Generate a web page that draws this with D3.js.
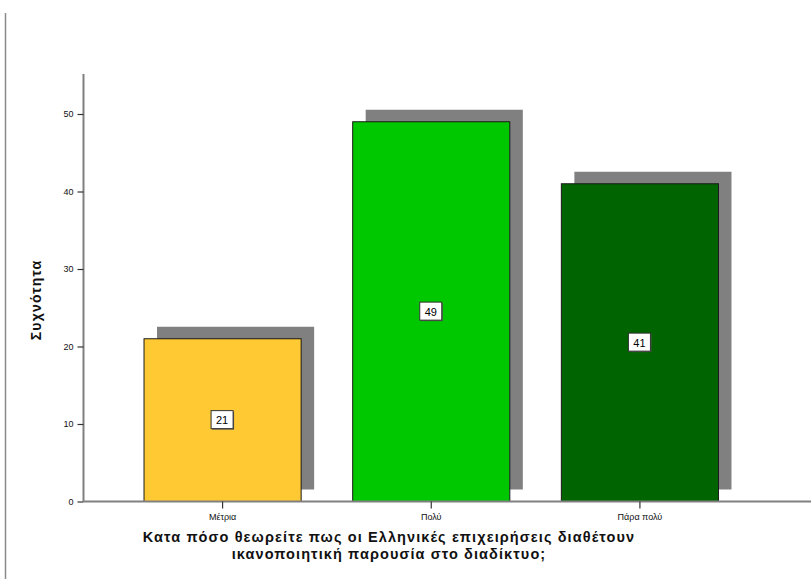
<!DOCTYPE html>
<html>
<head>
<meta charset="utf-8">
<script src="https://cdn.jsdelivr.net/npm/d3@7"></script>
<style>
  html, body { margin: 0; padding: 0; background: #fff; }
  svg { display: block; font-family: "Liberation Sans", Arial, sans-serif; }
</style>
</head>
<body>
<svg id="chart" width="811" height="579"></svg>
<script>
const categories = ["Μέτρια", "Πολύ", "Πάρα πολύ"];
const values = [21, 49, 41];
const colors = ["#ffc933", "#00c800", "#006400"];
const yTicks = [0, 10, 20, 30, 40, 50];
const yLabel = "Συχνότητα";
const xTitleLines = ["Κατα πόσο θεωρείτε πως οι Ελληνικές επιχειρήσεις διαθέτουν", "ικανοποιητική παρουσία στο διαδίκτυο;"];

const svg = d3.select("#chart");
const axisX = 83.5, baseY = 501.5;

const y = d3.scaleLinear().domain([0, 50]).range([baseY, 114]);
const x = d3.scaleBand().domain(categories).range([118.25, 744.25])
  .paddingInner(0.247).paddingOuter(0.1235);

// left frame line
svg.append("line").attr("x1", 5.5).attr("x2", 5.5).attr("y1", 13).attr("y2", 579)
  .attr("stroke", "#8a8a8a").attr("stroke-width", 1.5);

const data = categories.map((c, i) => ({c, v: values[i], col: colors[i]}));
const dx = 13, dy = 12;

// shadows
svg.append("g").selectAll("rect").data(data).join("rect")
  .attr("x", d => x(d.c) + dx)
  .attr("y", d => y(d.v) - dy)
  .attr("width", x.bandwidth())
  .attr("height", d => baseY - y(d.v))
  .attr("fill", "#808080");

// bars
svg.append("g").selectAll("rect").data(data).join("rect")
  .attr("x", d => x(d.c))
  .attr("y", d => y(d.v))
  .attr("width", x.bandwidth())
  .attr("height", d => baseY - y(d.v))
  .attr("fill", d => d.col)
  .attr("stroke", "#1a1a1a").attr("stroke-width", 1);

// y axis
const yAxis = svg.append("g").attr("transform", `translate(${axisX},0)`)
  .call(d3.axisLeft(y).tickValues(yTicks).tickSize(6).tickPadding(4).tickFormat(d3.format("d")));
yAxis.select(".domain").attr("d", `M0,74V${baseY}`).attr("stroke", "#808080").attr("stroke-width", 2);
yAxis.selectAll(".tick line").attr("stroke", "#333").attr("stroke-width", 1.2);
yAxis.selectAll(".tick text").attr("font-size", 9).attr("fill", "#111").attr("font-family", "Liberation Sans, Arial, sans-serif");

// x axis
const xAxis = svg.append("g").attr("transform", `translate(0,${baseY})`)
  .call(d3.axisBottom(x).tickSize(7).tickPadding(5));
xAxis.select(".domain").attr("d", `M${axisX},0H811`).attr("stroke", "#808080").attr("stroke-width", 2);
xAxis.selectAll(".tick line").attr("stroke", "#333").attr("stroke-width", 1.2);
xAxis.selectAll(".tick text").attr("font-size", 9).attr("fill", "#111").attr("font-family", "Liberation Sans, Arial, sans-serif");

// value labels
const lab = svg.append("g").selectAll("g").data(data).join("g")
  .attr("transform", d => `translate(${x(d.c) + x.bandwidth() / 2},${(y(d.v) + baseY) / 2})`);
lab.append("rect").attr("x", -10.5).attr("y", -8.5).attr("width", 22).attr("height", 18)
  .attr("fill", "#555");
lab.append("rect").attr("x", -11.5).attr("y", -9.5).attr("width", 22).attr("height", 18)
  .attr("fill", "#fff").attr("stroke", "#333").attr("stroke-width", 1);
lab.append("text").text(d => d.v).attr("x", -0.5).attr("y", 4)
  .attr("text-anchor", "middle").attr("font-size", 11).attr("fill", "#000");

// y label
svg.append("text").text(yLabel)
  .attr("transform", "translate(41,300) rotate(-90)")
  .attr("text-anchor", "middle").attr("font-size", 14).attr("font-weight", "bold")
  .attr("letter-spacing", 1.2).attr("fill", "#111");

// x title
svg.append("text").selectAll("tspan").data(xTitleLines).join("tspan")
  .attr("x", 389).attr("y", (d, i) => 542 + i * 16.5)
  .attr("text-anchor", "middle").text(d => d)
  .attr("font-size", 14.5).attr("font-weight", "bold").attr("letter-spacing", 1.1).attr("fill", "#111");
</script>
</body>
</html>
